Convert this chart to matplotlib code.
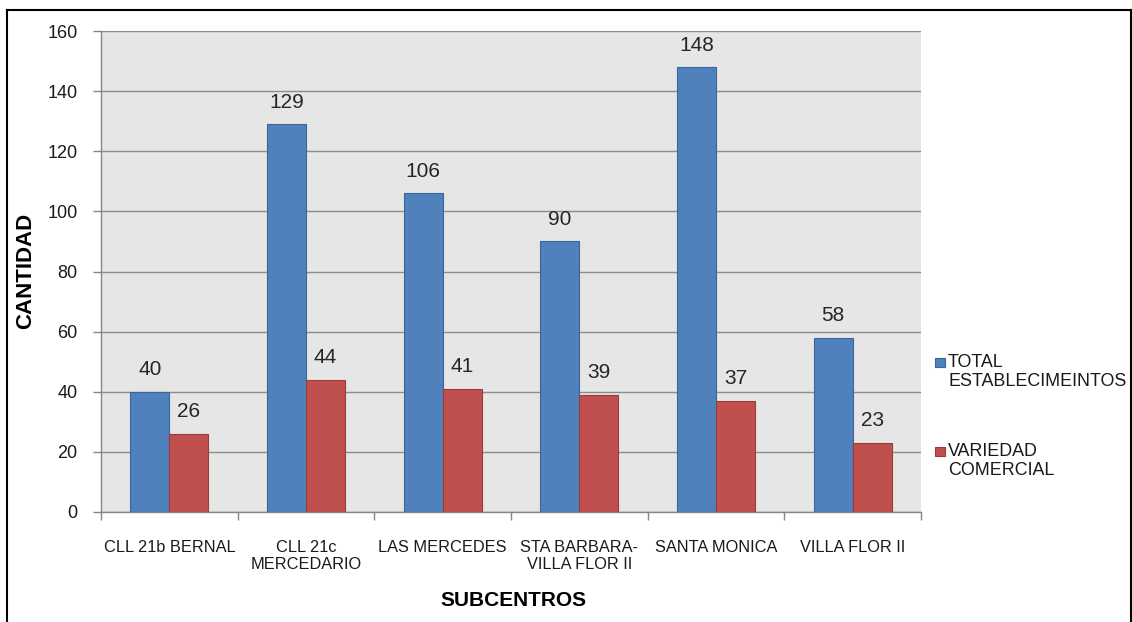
import matplotlib
matplotlib.use("Agg")
import matplotlib.pyplot as plt
import numpy as np
from matplotlib.lines import Line2D
from matplotlib.patches import Rectangle

categories = ["CLL 21b BERNAL", "CLL 21c\nMERCEDARIO", "LAS MERCEDES",
              "STA BARBARA-\nVILLA FLOR II", "SANTA MONICA", "VILLA FLOR II"]
total_establecimientos = [40, 129, 106, 90, 148, 58]
variedad_comercial = [26, 44, 41, 39, 37, 23]
series_names = ["TOTAL\nESTABLECIMEINTOS", "VARIEDAD\nCOMERCIAL"]
series_colors = ["#4F81BD", "#C0504D"]
edge_colors = ["#3C6696", "#9A3D3A"]
y_ticks = [0, 20, 40, 60, 80, 100, 120, 140, 160]

plt.rcParams['font.family'] = ['Liberation Sans', 'DejaVu Sans']

W, H = 1132, 622
fig = plt.figure(figsize=(W / 100, H / 100), dpi=100)
fig.patch.set_facecolor("white")
ax = fig.add_axes([101 / W, 1 - 512 / H, (921 - 101) / W, (512 - 31) / H])
ax.set_facecolor("#E6E6E6")

x = np.arange(len(categories))
bw = 0.285
series = [total_establecimientos, variedad_comercial]
for i, vals in enumerate(series):
    offs = (i - 0.5) * bw
    bars = ax.bar(x + offs, vals, bw, color=series_colors[i], edgecolor=edge_colors[i],
                  linewidth=0.8, zorder=3)
    ax.bar_label(bars, labels=[str(v) for v in vals], padding=9, fontsize=15,
                 color="#262626")

ax.set_xlim(-0.5, len(categories) - 0.5)
ax.set_ylim(0, 160)
ax.set_yticks(y_ticks)
ax.yaxis.grid(True, color="#8C8C8C", linewidth=1.0, zorder=0)
ax.set_axisbelow(True)

# major ticks at category boundaries, labels on minor ticks at centers
ax.set_xticks(np.arange(len(categories) + 1) - 0.5)
ax.set_xticklabels([])
ax.set_xticks(x, minor=True)
ax.set_xticklabels(categories, minor=True, fontsize=11.8, linespacing=1.2, color="#1a1a1a")
ax.tick_params(axis='x', which='minor', length=0, pad=20)
ax.tick_params(axis='x', which='major', length=6, color="#868686", width=1)
ax.tick_params(axis='y', length=6, color="#868686", width=1, pad=11, labelsize=13,
               labelcolor="#1a1a1a")

for s in ["top", "right"]:
    ax.spines[s].set_visible(False)
for s in ["left", "bottom"]:
    ax.spines[s].set_color("#868686")
    ax.spines[s].set_linewidth(1)

fig.text(26 / W, 1 - 271 / H, "CANTIDAD", rotation=90, ha="center", va="center",
         fontsize=16, fontweight="bold", color="black")
fig.text(513 / W, 1 - 600 / H, "SUBCENTROS", ha="center", va="center",
         fontsize=15, fontweight="bold", color="black")

# legend
legend_y = [362, 451]
for i, name in enumerate(series_names):
    yc = legend_y[i]
    fig.add_artist(Rectangle((935 / W, 1 - (yc + 4.5) / H), 10 / W, 9 / H,
                             transform=fig.transFigure, facecolor=series_colors[i],
                             edgecolor=edge_colors[i], linewidth=0.8))
    fig.text(948 / W, 1 - (yc - 8) / H, name, ha="left", va="top", fontsize=12.9,
             linespacing=1.12, color="#1a1a1a")

# outer border
for xs, ys in [([7, 7], [10, 640]), ([7, 1131], [10, 10]), ([1131, 1131], [10, 640])]:
    fig.add_artist(Line2D([v / W for v in xs], [1 - v / H for v in ys],
                          transform=fig.transFigure, color="black", linewidth=1.5))

fig.savefig("out.png", dpi=100)
